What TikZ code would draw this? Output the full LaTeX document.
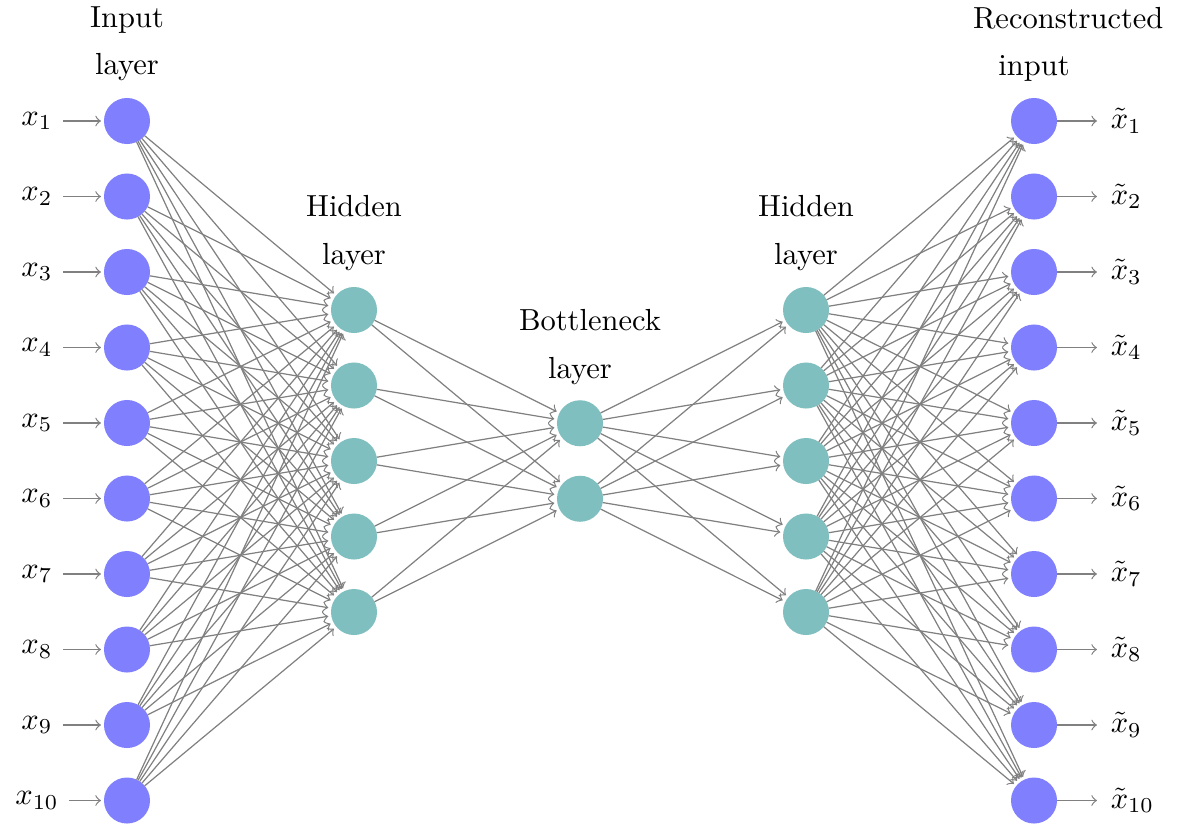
\documentclass[tikz,border=0pt]{standalone}
\usetikzlibrary{arrows}
\begin{document}
\begin{tikzpicture}[x=0.328pt,y=-0.328pt,
  inneuron/.style={circle,fill=blue!50,minimum size=15.1pt,inner sep=0pt,outer sep=0pt},
  hidneuron/.style={circle,fill=teal!50,minimum size=15.1pt,inner sep=0pt,outer sep=0pt},
  conn/.style={->,draw=black!50,shorten >=1pt},
  laylabel/.style={text width=40pt,align=center,inner sep=0pt},
  iolabel/.style={inner sep=3.33pt}]
\useasboundingbox (0,0) rectangle (1178,823);
% input and output layers
\foreach \i in {1,...,10}{
  \pgfmathsetmacro{\yy}{121+(\i-1)*75.5}
  \node[inneuron] (I\i) at (127,\yy) {};
  \node[inneuron] (O\i) at (1034,\yy) {};
  \node[iolabel] (xi\i) at (37,\yy) {$x_{\i}$};
  \node[iolabel,anchor=west] (xo\i) at (1100,\yy) {$\tilde{x}_{\i}$};
  \draw[conn] (xi\i) -- (I\i);
  \draw[conn] (O\i) -- (xo\i);
}
% hidden layers
\foreach \j in {1,...,5}{
  \pgfmathsetmacro{\yy}{310+(\j-1)*75.5}
  \node[hidneuron] (H\j) at (354,\yy) {};
  \node[hidneuron] (G\j) at (806,\yy) {};
}
% bottleneck
\node[hidneuron] (B1) at (580,423.25) {};
\node[hidneuron] (B2) at (580,498.75) {};
% connections
\foreach \i in {1,...,10}{
  \foreach \j in {1,...,5}{
    \draw[conn] (I\i) -- (H\j);
    \draw[conn] (G\j) -- (O\i);
  }
}
\foreach \j in {1,...,5}{
  \foreach \k in {1,2}{
    \draw[conn] (H\j) -- (B\k);
    \draw[conn] (B\k) -- (G\j);
  }
}
% layer labels
\node[laylabel] (LI) at (127,44) {Input\\[3.5pt]layer};
\node[laylabel] (LH) at (354,233) {Hidden\\[3.5pt]layer};
\node[laylabel] (LB) at (580,347) {Bottleneck\\[3.5pt]layer};
\node[laylabel] (LG) at (806,233) {Hidden\\[3.5pt]layer};
\node[laylabel] (LO) at (1034,44) {Reconstructed\\[3.5pt]input};
\end{tikzpicture}
\end{document}
